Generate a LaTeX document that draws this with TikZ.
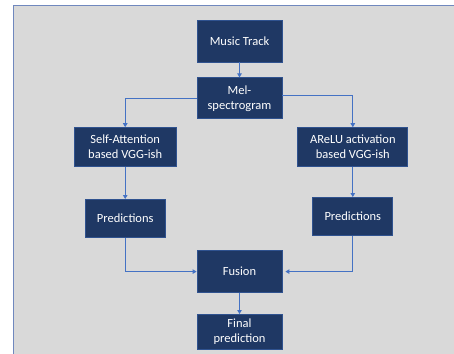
\documentclass[tikz,border=0pt]{standalone}
\usepackage{fontspec}
\setmainfont{Carlito}
\usetikzlibrary{positioning,arrows.meta}
\definecolor{flownavy}{RGB}{31,56,100}
\definecolor{flowedge}{RGB}{47,82,143}
\definecolor{flowline}{RGB}{68,114,196}
\definecolor{flowbg}{RGB}{217,217,217}
\definecolor{flowframe}{RGB}{112,136,190}

\begin{document}
\begin{tikzpicture}[
  x=1pt,y=1pt,
  node distance=15pt and 15pt,
  every node/.style={font=\fontsize{12.5}{15}\selectfont},
  box/.style={rectangle,draw=flowedge,fill=flownavy,text=white,align=center,line width=0.8pt,minimum width=85pt,minimum height=42pt,inner sep=2pt},
  arr/.style={-{Triangle[length=4pt,width=4.5pt]},line width=0.9pt,draw=flowline}
]
\useasboundingbox (0,0) rectangle (454,-353);
% grey panel behind the chart
\fill[flowbg] (13,-5) rectangle (470,-370);
\draw[flowframe,line width=0.8pt] (13,-370) -- (13,-5) -- (470,-5);

\node[box] (music) at (239.5,-41) {Music Track};
\node[box,minimum height=41pt,below=of music] (mel) {Mel-\\spectrogram};
\node[box,minimum width=102pt,minimum height=39pt,below left=8pt and 20pt of mel] (selfatt) {Self-Attention\\based VGG-ish};
\node[box,minimum width=110pt,minimum height=39pt,below right=8pt and 15pt of mel] (arelu) {AReLU activation\\based VGG-ish};
\node[box,minimum width=80pt,minimum height=38pt,below=32pt of selfatt] (predl) {Predictions};
\node[box,minimum width=80pt,minimum height=38pt,below=30pt of arelu] (predr) {Predictions};
\node[box,below=131pt of mel] (fusion) {Fusion};
\node[box,minimum height=35pt,below=21pt of fusion] (final) {Final\\prediction};

\draw[arr] (music) -- (mel);
\draw[arr] (mel.west) -| (selfatt.north);
\draw[arr] ([yshift=3pt]mel.east) -| (arelu.north);
\draw[arr] (selfatt) -- (predl.north -| selfatt.south);
\draw[arr] (arelu) -- (predr.north -| arelu.south);
\draw[arr] (predl.south) |- (fusion.west);
\draw[arr,shorten >=3pt] (predr.south) |- (fusion.east);
\draw[arr] (fusion) -- (final);
\end{tikzpicture}
\end{document}
